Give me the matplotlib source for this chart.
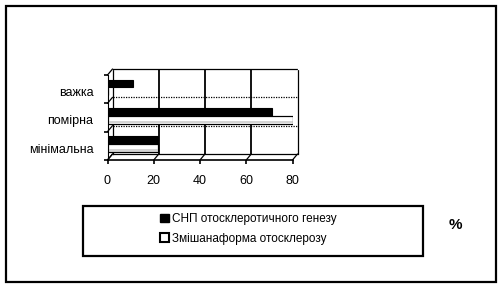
import matplotlib.pyplot as plt
from matplotlib.patches import Rectangle, ConnectionPatch
import numpy as np

plt.rcParams['font.family'] = ['Liberation Sans', 'DejaVu Sans']

# data (bottom -> top)
categories = ['мінімальна', 'помірна', 'важка']
snp_values = [22, 71, 11]        # СНП отосклеротичного генезу
mixed_values = [22, 80, 0]       # Змішана форма отосклерозу
x_ticks = [0, 20, 40, 60, 80]
legend_labels = ['СНП отосклеротичного генезу', 'Змішанаформа отосклерозу']

W, H = 500, 288
fig = plt.figure(figsize=(W / 100, H / 100), dpi=100)


def px_axes(x0, y0, x1, y1):
    # pixel box (top-left origin) -> figure fraction
    return [x0 / W, 1 - y1 / H, (x1 - x0) / W, (y1 - y0) / H]


# outer frame
fig.add_artist(Rectangle((6 / W, 1 - 282 / H), 490 / W, 276 / H,
                         transform=fig.transFigure, fill=False,
                         edgecolor='black', linewidth=1.6))

# back wall (3D depth offset)
dx, dy = 5, 6
back = fig.add_axes(px_axes(107.5 + dx, 75 - dy, 292.5 + dx, 160 - dy))
back.set_xlim(0, 80)
back.set_ylim(-0.5, 2.5)
back.set_xticks([])
back.set_yticks([])
for s in back.spines.values():
    s.set_linestyle((0, (1, 1)))
    s.set_linewidth(0.9)
for x in x_ticks[1:-1]:
    back.axvline(x, color='black', linewidth=1.3)
for y in [0.5, 1.5]:
    back.axhline(y, color='black', linewidth=0.9, linestyle=(0, (1, 1)))

# front axes with bars
ax = fig.add_axes(px_axes(107.5, 75, 292.5, 160))
ax.patch.set_alpha(0)
ax.set_xlim(0, 80)
ax.set_ylim(-0.5, 2.5)
y = np.arange(len(categories))
bh = 0.27
ax.barh(y + 0.2, snp_values, height=bh, color='black', edgecolor='black',
        linewidth=0.8, zorder=3)
ax.barh(y - 0.08, mixed_values, height=bh, color='white', edgecolor='black',
        linewidth=0.8, zorder=3)
# light shading on the lower part of the white bars
ax.barh(y - 0.08 - bh * 0.3, mixed_values, height=bh * 0.3, color='#d4d4d4',
        linewidth=0, zorder=3.5)
ax.barh(y - 0.08, mixed_values, height=bh, fill=False, edgecolor='black',
        linewidth=0.8, zorder=4)

ax.spines['top'].set_visible(False)
ax.spines['right'].set_visible(False)
ax.spines['left'].set_linestyle((0, (1, 1)))
ax.spines['bottom'].set_linewidth(1.2)
ax.set_xticks(x_ticks)
ax.set_xticklabels([str(t) for t in x_ticks], fontsize=9)
ax.set_yticks([-0.5, 0.5, 1.5, 2.5])
ax.set_yticklabels([])
ax.set_yticks(y - 0.08, minor=True)
ax.set_yticklabels(categories, minor=True, fontsize=9)
ax.tick_params(axis='y', which='minor', length=0, pad=10)
ax.tick_params(axis='y', which='major', length=3, width=1.2)
ax.tick_params(axis='x', length=3, width=1.2, pad=8)

# floor diagonals connecting front ticks to back wall
for x in x_ticks:
    fig.add_artist(ConnectionPatch((x, -0.5), (x, -0.5), 'data', 'data',
                                   axesA=ax, axesB=back, color='black',
                                   linewidth=0.9))
for yb in [-0.5, 0.5, 1.5, 2.5]:
    fig.add_artist(ConnectionPatch((0, yb), (0, yb), 'data', 'data',
                                   axesA=ax, axesB=back, color='black',
                                   linewidth=0.9))

# legend
fig.add_artist(Rectangle((83 / W, 1 - 256 / H), 340 / W, 50 / H,
                         transform=fig.transFigure, fill=False,
                         edgecolor='black', linewidth=1.6))
handles = [Rectangle((0, 0), 1, 1, facecolor='black', edgecolor='black'),
           Rectangle((0, 0), 1, 1, facecolor='white', edgecolor='black',
                     linewidth=1.5)]
fig.legend(handles, legend_labels, loc='center left',
           bbox_to_anchor=(151 / W, 1 - 229 / H), frameon=False,
           fontsize=8.5, handlelength=0.7, handleheight=0.7,
           handletextpad=0.25, labelspacing=0.6, borderpad=0.3)

fig.text(455 / W, 1 - 225 / H, '%', fontsize=11, fontweight='bold',
         ha='center', va='center')

fig.savefig('out.png', dpi=100, facecolor='white')
